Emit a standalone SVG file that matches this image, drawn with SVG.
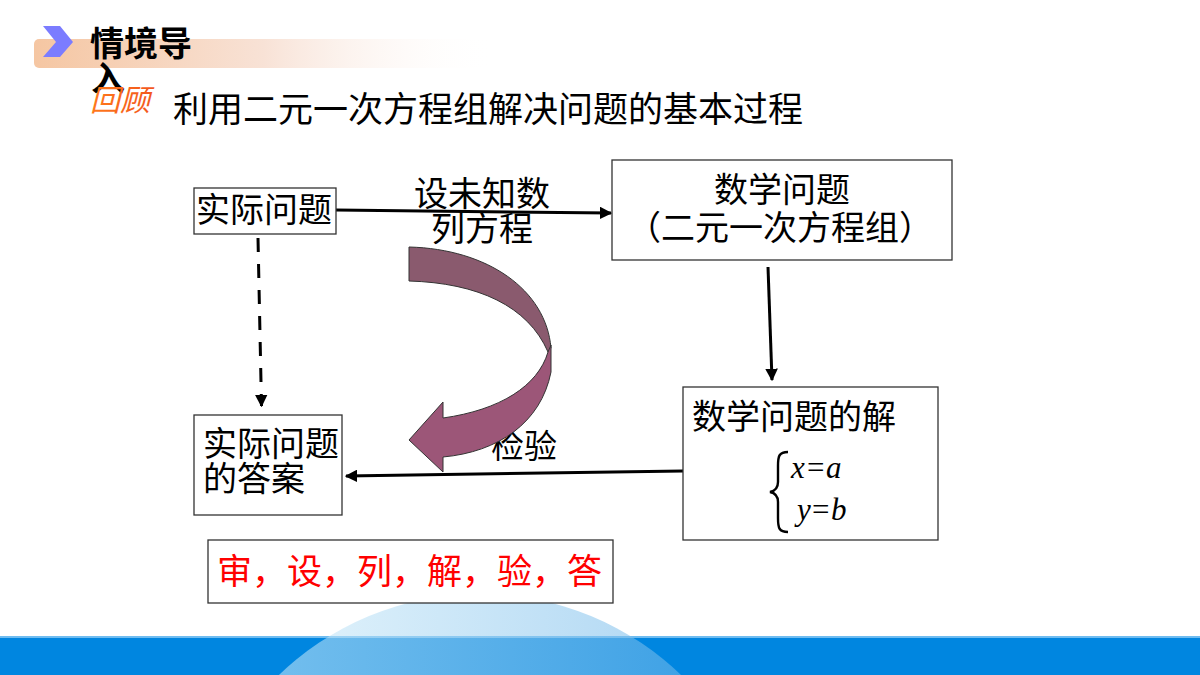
<svg xmlns="http://www.w3.org/2000/svg" width="1200" height="675" viewBox="0 0 1200 675">
<defs>
<linearGradient id="hdr" x1="0" y1="0" x2="1" y2="0">
<stop offset="0" stop-color="#F5C6A2"/>
<stop offset="0.5" stop-color="#F8E2D6"/>
<stop offset="1" stop-color="#FFFFFF" stop-opacity="0"/>
</linearGradient>
<linearGradient id="dome" x1="290" y1="0" x2="680" y2="0" gradientUnits="userSpaceOnUse">
<stop offset="0" stop-color="#C8E8F8"/>
<stop offset="1" stop-color="#73B9EA"/>
</linearGradient>
<linearGradient id="rg" x1="0" y1="0" x2="1" y2="0">
<stop offset="0" stop-color="#FF7A1A"/>
<stop offset="1" stop-color="#F2561D"/>
</linearGradient>
<marker id="ah" viewBox="0 0 10 10" refX="9" refY="5" markerWidth="4.2" markerHeight="4.2" orient="auto">
<path d="M0,0 L10,5 L0,10 Z" fill="#000"/>
</marker>
<style>
.cn{font-family:"Noto Sans CJK SC","Noto Sans",sans-serif;fill:#000;}
.box{fill:#fff;stroke:#333;stroke-width:1.3;}
.ln{stroke:#000;stroke-width:3;fill:none;}
.mi{font-family:"Liberation Serif","DejaVu Serif",serif;font-style:italic;font-size:31px;fill:#000;}
.mo{font-family:"Liberation Serif","DejaVu Serif",serif;font-size:31px;fill:#000;}
</style>
</defs>
<rect width="1200" height="675" fill="#fff"/>

<g id="footer">
<rect x="0" y="637" width="1200" height="38" fill="#0086E0"/>
<rect x="0" y="636" width="1200" height="2" fill="#6FBCF0"/>
<circle cx="480" cy="884" r="290" fill="url(#dome)" fill-opacity="0.56"/>
</g>

<g id="header">
<rect x="34" y="39" width="460" height="29" rx="5" fill="url(#hdr)"/>
<polygon points="43,26 60,26 73,42 60,57 43,57 56,42" fill="#7B7CFF"/>
<text class="cn" x="90" y="56" font-size="34" font-weight="bold">情境导</text>
<text class="cn" x="91" y="91" font-size="34" font-weight="bold">入</text>
<text x="90" y="111" font-size="30" font-style="italic" fill="url(#rg)" font-family="Noto Sans CJK SC,sans-serif">回顾</text>
<text class="cn" x="173" y="122" font-size="35">利用二元一次方程组解决问题的基本过程</text>
</g>

<g id="connectors">
<line class="ln" x1="336" y1="210" x2="611" y2="213" marker-end="url(#ah)"/>
<line class="ln" x1="768" y1="267" x2="772" y2="380" marker-end="url(#ah)"/>
<line class="ln" x1="683" y1="471" x2="346" y2="476" marker-end="url(#ah)"/>
<line class="ln" x1="258" y1="238" x2="261.5" y2="406" stroke-width="3.5" stroke-dasharray="14,12" marker-end="url(#ah)"/>
<text class="cn" x="414" y="206" font-size="34">设未知数</text>
<text class="cn" x="431" y="241" font-size="34">列方程</text>
<text class="cn" x="491" y="458" font-size="33">检验</text>
</g>

<g id="curve-arrow" stroke="#333" stroke-width="1">
<path d="M409,247 C488,249 546,290 551,348 L548,352 C528,306 478,283 409,281 Z" fill="#8A5A6E"/>
<path d="M548,352 L551,345 L551,372 C541,423 498,452 443,457 L443,472 L409,440 L443,402 L443,418 C500,410 538,386 548,352 Z" fill="#9C5678"/>
</g>

<g id="n-real">
<rect class="box" x="194" y="188" width="142" height="46"/>
<text class="cn" x="196" y="222" font-size="34">实际问题</text>
</g>

<g id="n-math">
<rect class="box" x="612" y="160" width="340" height="100"/>
<text class="cn" x="782" y="202" font-size="34" text-anchor="middle">数学问题</text>
<text class="cn" x="780" y="240" font-size="34" text-anchor="middle">（二元一次方程组）</text>
</g>

<g id="n-solution">
<rect class="box" x="683" y="387" width="255" height="153"/>
<text class="cn" x="692" y="429" font-size="34">数学问题的解</text>
<path d="M788,452 C779,452 778,456 778,466 L778,482 C778,488 775,491 770,492 C775,493 778,496 778,502 L778,518 C778,528 779,532 788,532" fill="none" stroke="#000" stroke-width="2.4"/>
<text class="mi" x="791" y="478">x</text><text class="mo" x="807" y="478">=</text><text class="mi" x="826" y="478">a</text>
<text class="mi" x="797" y="520">y</text><text class="mo" x="812" y="520">=</text><text class="mi" x="831" y="520">b</text>
</g>

<g id="n-answer">
<rect class="box" x="194" y="415" width="148" height="100"/>
<text class="cn" x="203" y="456" font-size="34">实际问题</text>
<text class="cn" x="203" y="491" font-size="34">的答案</text>
</g>

<g id="n-steps">
<rect class="box" x="208" y="540" width="405" height="63"/>
<text class="cn" x="217" y="584" font-size="35" style="fill:#FF0000">审，设，列，解，验，答</text>
</g>
</svg>
